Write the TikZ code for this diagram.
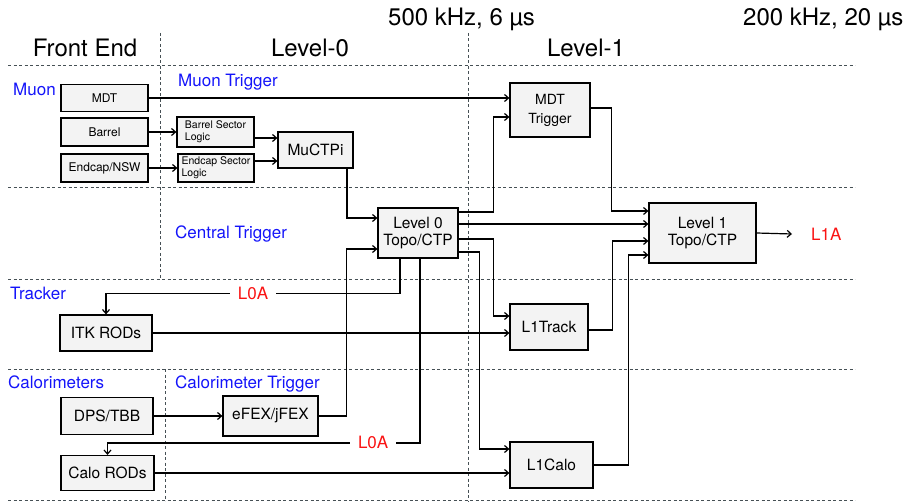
\documentclass[tikz,border=0pt]{standalone}
\usepackage{fontspec}
\setmainfont{TeX Gyre Heros}
\usetikzlibrary{arrows.meta,positioning,calc}
\definecolor{trigblue}{RGB}{20, 20,250}
\definecolor{trigred} {RGB}{250, 20, 20}
\definecolor{boxgray} {RGB}{243,243,243}
\definecolor{sepgray} {RGB}{ 70, 80, 85}
\tikzset{
  blk/.style={draw=black,fill=boxgray,line width=1.2pt,inner sep=0pt,
              align=center,font=\fontsize{15.5}{17.5}\selectfont},
  blksmall/.style={blk,font=\fontsize{12}{14}\selectfont},
  blklogic/.style={blk,align=left,font=\fontsize{10.5}{11.7}\selectfont},
  grp/.style={font=\fontsize{17}{20}\selectfont,text=trigblue,anchor=west,
              inner sep=0pt,text depth=0pt},
  hdr/.style={font=\fontsize{24}{28}\selectfont,inner sep=0pt,text depth=0pt},
  acc/.style={font=\fontsize{17}{20}\selectfont,text=trigred,fill=white,
              inner xsep=8pt,inner ysep=1pt},
  arr/.style={-{Straight Barb[length=4pt,width=7pt]},line width=1.2pt},
  sep/.style={draw=sepgray,line width=0.9pt,dash pattern=on 3pt off 2.5pt},
}
\begin{document}
\begin{tikzpicture}[x=1pt,y=-1pt]
  \useasboundingbox (0,0) rectangle (912,502);
  % region borders
  \foreach \yy in {65,187,279,369,500.5}
    \draw[sep] (8,\yy) -- (855,\yy);
  \draw[sep] (160,33) -- (160,279);
  \draw[sep] (165,369) -- (165,501);
  \draw[sep] (468,33) -- (468,501);

  \node[hdr] (FE)   at (85,48)  {Front End};
  \node[hdr] (LVL0) at (310,48) {Level-0};
  \node[hdr] (LVL1) at (586,48) {Level-1};
  \node[hdr,anchor=west] (RATE0) at (388,17) {500 kHz, 6 µs};
  \node[hdr,anchor=west] (RATE1) at (743,17) {200 kHz, 20 µs};

  \node[grp] (gMUON)  at (13,89)   {Muon};
  \node[grp] (gMUTRG) at (178,80)  {Muon Trigger};
  \node[grp] (gCTP)   at (175,232) {Central Trigger};
  \node[grp] (gTRK)   at (10,293)  {Tracker};
  \node[grp] (gCALO)  at (8,382)   {Calorimeters};
  \node[grp] (gCATRG) at (175,382) {Calorimeter Trigger};

  \node[blksmall,minimum width=87pt,minimum height=27pt] (MDT)    at (104.5,98)  {MDT};
  \node[blksmall,minimum width=87pt,minimum height=28pt] (BARREL) at (104.5,132) {Barrel};
  \node[blksmall,minimum width=87pt,minimum height=28pt] (ENDCAP) at (104.5,168) {Endcap/NSW};
  \node[blklogic,minimum width=77pt,minimum height=30pt] (BSL)    at (215.5,132) {Barrel Sector\\Logic};
  \node[blklogic,minimum width=76pt,minimum height=28pt] (ESL)    at (216,168)   {Endcap Sector\\Logic};
  \node[blk,minimum width=75pt,minimum height=36pt]      (MUCTPI) at (315.5,150) {MuCTPi};
  \node[blk,minimum width=80pt,minimum height=50pt]      (LZERO)  at (418,233)   {Level 0\\Topo/CTP};
  \node[blk,minimum width=80pt,minimum height=54pt,font=\fontsize{14}{19}\selectfont]
                                                         (MDTTRIG) at (550,110)  {MDT\\Trigger};
  \node[blk,minimum width=107pt,minimum height=60pt]     (LONE)   at (702.5,233) {Level 1\\Topo/CTP};
  \node[blk,minimum width=78pt,minimum height=46pt]      (LTRACK) at (549,327)   {L1Track};
  \node[blk,minimum width=92pt,minimum height=36pt]      (ITK)    at (106,333)   {ITK RODs};
  \node[blk,minimum width=92pt,minimum height=37pt]      (DPS)    at (107,416)   {DPS/TBB};
  \node[blk,minimum width=95pt,minimum height=40pt]      (EFEX)   at (270.5,416) {eFEX/jFEX};
  \node[blk,minimum width=93pt,minimum height=35pt]      (CALOROD) at (107.5,473) {Calo RODs};
  \node[blk,minimum width=83pt,minimum height=46pt]      (LCALO)  at (551.5,465) {L1Calo};
  \node[acc,anchor=west,inner xsep=0pt,fill=none] (L1A) at (811,234) {L1A};

  \draw[arr] (MDT.east) -- ([yshift=12pt]MDTTRIG.west);
  \draw[arr] (BARREL.east) -- (BSL.west);
  \draw[arr] (ENDCAP.east) -- (ESL.west);
  \draw[arr] ([yshift=-6pt]BSL.east) -- ([yshift=12pt]MUCTPI.west);
  \draw[arr] ([yshift=7pt]ESL.east) -- ([yshift=-11pt]MUCTPI.west);
  \draw[arr] ([xshift=31.5pt]MUCTPI.south) |- ([yshift=15pt]LZERO.west);
  \draw[arr] (EFEX.east) -- ++(28,0) |- ([yshift=-16pt]LZERO.west);
  \draw[arr] (DPS.east) -- (EFEX.west);
  \draw[arr] ([yshift=21pt]LZERO.east) -- ++(35,0) |- ([yshift=-7pt]MDTTRIG.west);
  \draw[arr] ([yshift=9pt]LZERO.east) -- ([yshift=9pt]LONE.west);
  \draw[arr] ([yshift=-6pt]LZERO.east) -- ++(35,0) |- ([yshift=11pt]LTRACK.west);
  \draw[arr] ([yshift=-19pt]LZERO.east) -- ++(21,0) |- ([yshift=16pt]LCALO.west);
  \draw[arr] ([yshift=2pt]MDTTRIG.east) -- ++(21,0) |- ([yshift=22pt]LONE.west);
  \draw[arr] (ITK.east) -- ([yshift=-6pt]LTRACK.west);
  \draw[arr] ([yshift=-3pt]LTRACK.east) -- ++(24,0) |- ([yshift=-8pt]LONE.west);
  \draw[arr] (CALOROD.east) -- ([yshift=-8pt]LCALO.west);
  \draw[arr] (LCALO.east) -- ++(35,0) |- ([yshift=-22pt]LONE.west);
  \draw[arr] (LONE.east) -- ([xshift=-19pt]L1A.west);
  \draw[arr] ([xshift=-18pt]LZERO.south) |- node[acc,pos=0.75]{L0A}
             ([yshift=21pt]ITK.north) -- (ITK.north);
  \draw[arr] ([xshift=2pt]LZERO.south) |- node[acc,pos=0.575]{L0A}
             ([yshift=12pt]CALOROD.north) -- (CALOROD.north);
\end{tikzpicture}
\end{document}
